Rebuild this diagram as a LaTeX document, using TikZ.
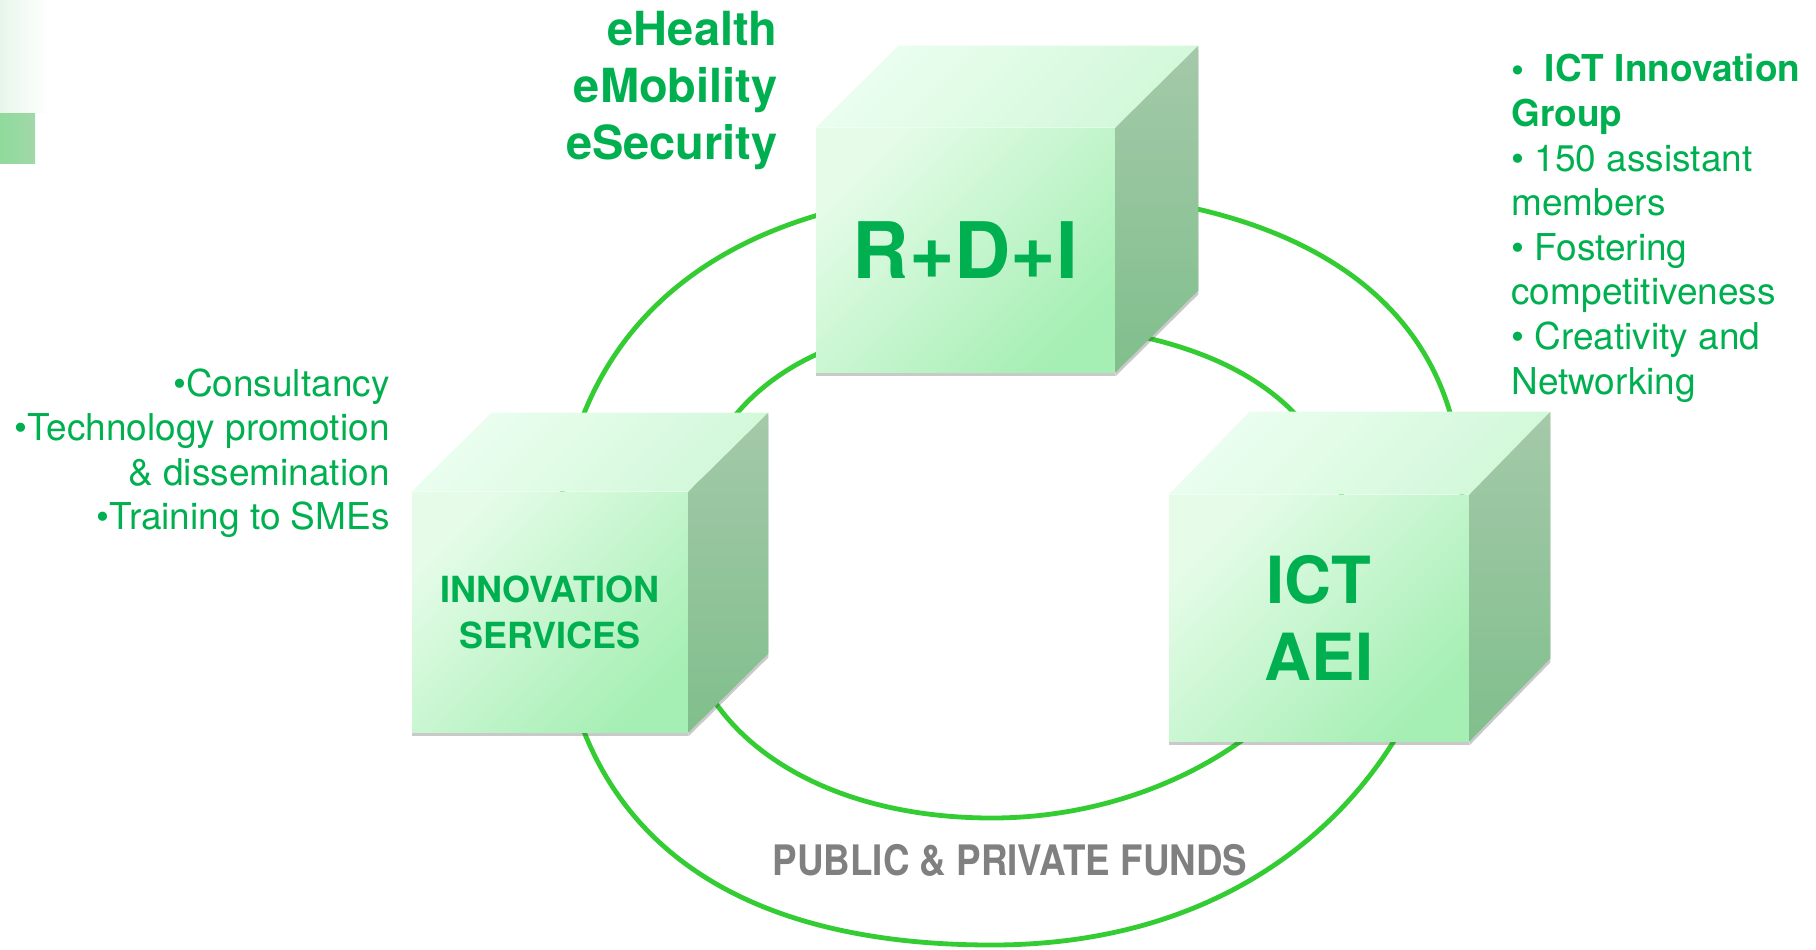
\documentclass[tikz,border=0pt]{standalone}
\usepackage{fontspec}
\usepackage{graphicx}
\setmainfont{TeX Gyre Heros}
\usetikzlibrary{shadows}
\definecolor{textgreen}{HTML}{00B050}
\definecolor{ringgreen}{HTML}{33CC33}
\definecolor{fundgray}{HTML}{808080}
\definecolor{frontlight}{HTML}{E6FCE9}
\definecolor{frontdark}{HTML}{A6EFB4}
\definecolor{toplight}{HTML}{EBFEF0}
\definecolor{topdark}{HTML}{D2F8D9}
\definecolor{sidelight}{HTML}{A4C9A9}
\definecolor{sidedark}{HTML}{80BF8C}
\definecolor{hazelight}{HTML}{E8F6EA}
\definecolor{cornerlight}{HTML}{8FDA9C}
\definecolor{cornerdark}{HTML}{A2D8AA}
\tikzset{
  ring/.style={draw=ringgreen,line width=2.4pt},
  cubeshadow/.style={drop shadow={shadow xshift=0pt,shadow yshift=-2pt,opacity=.3,fill=black!70}},
  front/.style={top color=frontlight,bottom color=frontdark,shading angle=45,
    text=textgreen,align=center,inner sep=0pt,cubeshadow},
  topface/.style={top color=toplight,bottom color=topdark,shading angle=45},
  sideface/.style={top color=sidelight,bottom color=sidedark,cubeshadow},
  listtext/.style={text=textgreen,inner sep=0pt,font=\fontsize{18.5}{22.3}\selectfont},
}
\begin{document}
\begin{tikzpicture}[x=0.5pt,y=-0.5pt]
  \useasboundingbox (0,0) rectangle (1816,949);
  % faded corner
  \path[left color=hazelight,right color=white] (0,0) rectangle (50,112);
  \path[left color=cornerlight,right color=cornerdark] (0,113) rectangle (35,163);
  % rings
  \draw[ring] (1012,190) .. controls (1300,190) and (1462,301.6) .. (1462,500)
    .. controls (1462,724) and (1302,945) .. (992,945)
    .. controls (704,945) and (556,812) .. (556,570)
    .. controls (556,326.8) and (720.2,190) .. (1012,190) -- cycle;
  \draw[ring] (990,322) .. controls (1224,322) and (1350,405.3) .. (1350,560)
    .. controls (1350,696.7) and (1181.7,818) .. (992,818)
    .. controls (811,818) and (680,726.8) .. (680,590)
    .. controls (680,415.8) and (788.5,322) .. (990,322) -- cycle;
  % R+D+I
  \node[front,minimum width=149.5pt,minimum height=122pt,
    font=\fontsize{39}{39}\selectfont\bfseries] (rdi) at (965.5,250) {R+D+I};
  \path[topface] (rdi.north west) -- ++(83,-82) -- ([shift={(83,-82)}]rdi.north east)
    -- (rdi.north east) -- cycle;
  \path[sideface] (rdi.north east) -- ([shift={(83,-82)}]rdi.north east)
    -- ([shift={(83,-82)}]rdi.south east) -- (rdi.south east) -- cycle;
  % innovation services
  \node[front,minimum width=138pt,minimum height=120pt,
    font=\fontsize{18}{23}\selectfont\bfseries] (services) at (550,612) {INNOVATION\\SERVICES};
  \path[topface] (services.north west) -- ++(80,-79) -- ([shift={(80,-79)}]services.north east)
    -- (services.north east) -- cycle;
  \path[sideface] (services.north east) -- ([shift={(80,-79)}]services.north east)
    -- ([shift={(80,-79)}]services.south east) -- (services.south east) -- cycle;
  % ICT AEI
  \node[front,minimum width=150pt,minimum height=123pt,
    font=\fontsize{32.5}{38.5}\selectfont\bfseries] (ict) at (1319,618) {ICT\\AEI};
  \path[topface] (ict.north west) -- ++(81,-83) -- ([shift={(81,-83)}]ict.north east)
    -- (ict.north east) -- cycle;
  \path[sideface] (ict.north east) -- ([shift={(81,-83)}]ict.north east)
    -- ([shift={(81,-83)}]ict.south east) -- (ict.south east) -- cycle;
  % texts
  \node[listtext,anchor=north east,align=right,
    font=\fontsize{23.5}{28.5}\selectfont\bfseries] (areas) at (778,11) {eHealth\\eMobility\\eSecurity};
  \node[listtext,anchor=north east,align=right] (offer) at (390,368)
    {•Consultancy\\•Technology promotion\\\& dissemination\\•Training to SMEs};
  \node[listtext,anchor=north west,align=left] (group) at (1511,54)
    {\textbf{•\ \ ICT Innovation}\\\textbf{Group}\\• 150 assistant\\members\\• Fostering\\competitiveness\\• Creativity and\\Networking};
  \node[anchor=base,text=fundgray,inner sep=0pt,
    font=\fontsize{21}{21}\selectfont\bfseries] (funds) at (1010,875)
    {\scalebox{0.875}[1]{PUBLIC \& PRIVATE FUNDS}};
\end{tikzpicture}
\end{document}
